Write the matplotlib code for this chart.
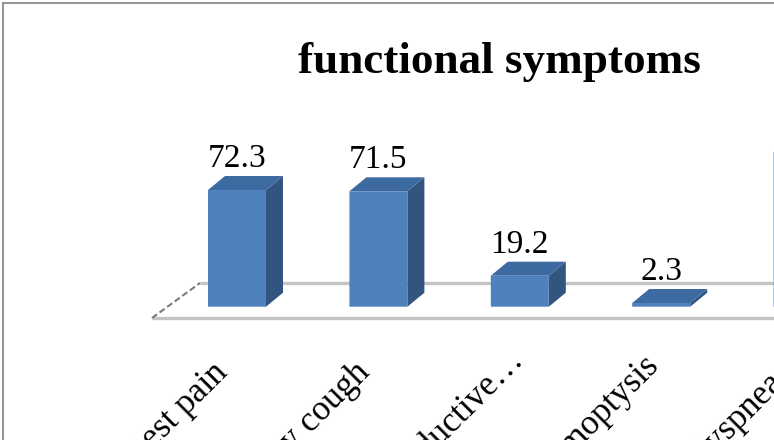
import matplotlib.pyplot as plt
from matplotlib.patches import Polygon

categories = ['Chest pain', 'Dry cough', 'Productive\u2026', 'Hemoptysis', 'Dyspnea']
values = [72.3, 71.5, 19.2, 2.3, 95.8]
title = 'functional symptoms'

W, H = 774, 440
# pixel layout of the plot area
x0_px, step_px = 237.0, 141.4       # centre of first bar, spacing between bars
y0_px, unit_px = 306.7, 1.614       # baseline of bars, pixels per unit of value

bar_w = 58 / step_px
dx, dy = 17 / step_px, 14 / unit_px  # depth of the bars

front_col = '#4f81bd'
top_col = '#3d6aa1'
side_col = '#32557f'

fig = plt.figure(figsize=(W / 100, H / 100), dpi=100)
ax = fig.add_axes([0, 0, 1, 1])
ax.set_xlim(-x0_px / step_px, (W - x0_px) / step_px)
ax.set_ylim((y0_px - H) / unit_px, y0_px / unit_px)
ax.axis('off')

# floor of the 3d chart
floor_front = (y0_px - 318) / unit_px
floor_back = (y0_px - 283) / unit_px
fl_left_front = (152 - x0_px) / step_px
fl_left_back = (200 - x0_px) / step_px
x_right = (W + 10 - x0_px) / step_px
ax.plot([fl_left_front, x_right], [floor_front, floor_front], color='#c4c4c4', lw=2.4, zorder=1,
        solid_capstyle='butt')
ax.plot([fl_left_back, x_right], [floor_back, floor_back], color='#c4c4c4', lw=2.4, zorder=1,
        solid_capstyle='butt')
ax.plot([fl_left_front, fl_left_back], [floor_front, floor_back], color='#7a7a7a', lw=1.5,
        ls=(0, (3, 1.5)), zorder=1)

xs = list(range(len(categories)))
for x, v in zip(xs, values):
    r = x + bar_w / 2
    l = x - bar_w / 2
    side = Polygon([(r, 0), (r + dx, dy), (r + dx, v + dy), (r, v)], closed=True,
                   facecolor=side_col, edgecolor='none', zorder=3)
    top = Polygon([(l, v), (r, v), (r + dx, v + dy), (l + dx, v + dy)], closed=True,
                  facecolor=top_col, edgecolor='none', zorder=3)
    ax.add_patch(side)
    ax.add_patch(top)
bars = ax.bar(xs, values, width=bar_w, color=front_col, zorder=4)
for b in bars:
    b.set_snap(False)

# value labels
for x, v in zip(xs, values):
    ax.text(x, v + dy + 5.6, f'{v}', ha='center', va='baseline', fontsize=24,
            family='Liberation Serif', color='black', zorder=5)

# rotated category labels, centred on a point down-left of each bar
lab_dx = -60 / step_px
lab_y = (y0_px - 426) / unit_px
for x, c in zip(xs, categories):
    ax.text(x + lab_dx, lab_y, c, rotation=45, rotation_mode='anchor', ha='center',
            va='baseline', fontsize=25, family='Liberation Serif', color='black', zorder=5)

fig.text(499 / W, 1 - 73 / H, title, ha='center', va='baseline', fontsize=32.5,
         fontweight='bold', family='Liberation Serif')

# chart border (only top and left edges fall inside the image)
fig.add_artist(plt.Line2D([3.5 / W, 1.1], [1 - 3.5 / H, 1 - 3.5 / H], color='#8a8a8a', lw=1.3,
                          transform=fig.transFigure))
fig.add_artist(plt.Line2D([3.5 / W, 3.5 / W], [1 - 3.5 / H, -0.1], color='#8a8a8a', lw=1.3,
                          transform=fig.transFigure))

fig.savefig('out.png', dpi=100)
